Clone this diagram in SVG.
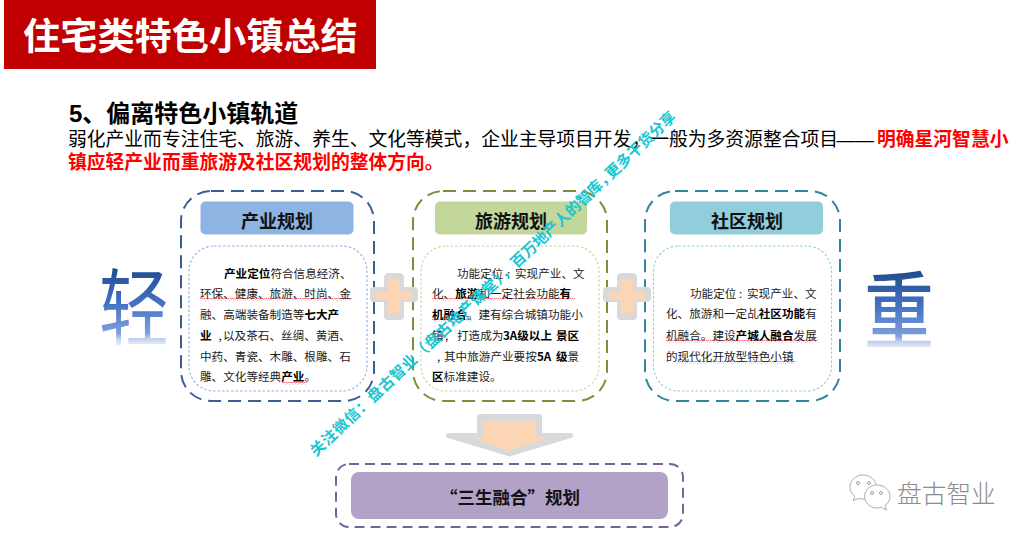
<svg xmlns="http://www.w3.org/2000/svg" width="1029" height="539" viewBox="0 0 1029 539">
<style>
text{font-family:"Liberation Sans","Noto Sans CJK SC",sans-serif}
.cjk{font-family:"Noto Sans CJK SC",sans-serif}
.hd{font-size:18px;font-weight:700;fill:#111;text-anchor:middle}
.tx{font-size:11.6px;fill:#222}
.tx .b{font-weight:700;fill:#000}
.outer{fill:#fff;stroke-width:2;stroke-dasharray:13 7}
.inner{fill:#fff;stroke-width:1.1;stroke-dasharray:2.5 2}
.plus-o{fill:#d9d9d9}
.plus-i{fill:#fcd5b5}
.sq{fill:url(#wave)}
</style>
<defs>
<pattern id="wave" width="4" height="3" patternUnits="userSpaceOnUse">
<path d="M0 2 L1 1 L2 1 L3 2 L4 2" fill="none" stroke="#ee6a78" stroke-width="0.9"/>
</pattern>
<linearGradient id="g1" gradientUnits="userSpaceOnUse" x1="0" y1="-60" x2="0" y2="7">
<stop offset="0" stop-color="#1f4b8c"/><stop offset="0.45" stop-color="#4472c4"/><stop offset="0.82" stop-color="#7f9fdc"/><stop offset="0.9" stop-color="#c5d4ef"/><stop offset="1" stop-color="#f6f8fd"/>
</linearGradient>
</defs>
<rect width="1029" height="539" fill="#fff"/>

<g id="title">
<rect x="4" y="0" width="372" height="69" fill="#c00000"/>
<text class="cjk" x="23" y="50" font-size="37.2" font-weight="700" fill="#fff">住宅类特色小镇总结</text>
</g>

<g id="intro">
<text class="cjk" x="69" y="122" font-size="24" font-weight="700" fill="#000"><tspan font-family="Liberation Sans">5</tspan><tspan>、偏离特色小镇轨道</tspan></text>
<text class="cjk" x="68" y="146" font-size="18.8" fill="#000">弱化产业而专注住宅、旅游、养生、文化等模式，企业主导项目开发，一般为多资源整合项目<tspan x="836.500" font-family="Liberation Sans">——</tspan><tspan x="877" font-weight="700" fill="#f00">明确星河智慧小</tspan></text>
<text class="cjk" x="68" y="169" font-size="18.8" font-weight="700" fill="#f00">镇应轻产业而重旅游及社区规划的整体方向。</text>
</g>

<g id="light">
<text class="cjk" transform="translate(99 339) scale(1 1.2)" font-size="70" fill="url(#g1)">轻</text>
</g>
<g id="heavy">
<text class="cjk" transform="translate(864 342) scale(1 1.2)" font-size="70" font-weight="500" fill="url(#g1)">重</text>
</g>

<g id="industry">
<rect class="outer" x="181" y="191" width="193" height="210" rx="30" stroke="#3a5f94"/>
<rect x="200.500" y="201.500" width="153" height="33" rx="5" fill="#8db4e2"/>
<text class="hd cjk" x="277" y="228">产业规划</text>
<rect class="inner" x="189" y="246" width="178" height="145" rx="25" stroke="#8db4e2"/>
<rect class="sq" x="200" y="298" width="152" height="3"/>
<rect class="sq" x="282" y="382" width="25" height="3"/>
<text class="tx cjk">
<tspan x="224" y="278"><tspan class="b">产业定位</tspan>符合信息经济、</tspan>
<tspan x="200" y="298">环保、健康、旅游、时尚、金</tspan>
<tspan x="200" y="319">融、高端装备制造等<tspan class="b">七大产</tspan></tspan>
<tspan x="200" y="339.500"><tspan class="b">业</tspan><tspan x="216"> ,</tspan><tspan x="223">以及茶石、丝绸、黄酒、</tspan></tspan>
<tspan x="200" y="361">中药、青瓷、木雕、根雕、石</tspan>
<tspan x="200" y="381">雕、文化等经典<tspan class="b">产业</tspan>。</tspan>
</text>
</g>

<g id="tourism">
<rect class="outer" x="413" y="191" width="194" height="210" rx="30" stroke="#76923c"/>
<rect x="435" y="201.500" width="152" height="33" rx="5" fill="#c3d69b"/>
<text class="hd cjk" x="511" y="228">旅游规划</text>
<rect class="inner" x="421" y="246" width="178" height="145" rx="25" stroke="#c3d69b"/>
<rect class="sq" x="432" y="298" width="143" height="3"/>
<rect class="sq" x="432" y="319" width="40" height="3"/>
<text class="tx cjk">
<tspan x="457" y="278">功能定位<tspan x="507">:</tspan><tspan x="515">实现产业、文</tspan></tspan>
<tspan x="432" y="298">化、<tspan class="b">旅游</tspan>和一定社会功能<tspan class="b">有</tspan></tspan>
<tspan x="432" y="319"><tspan class="b">机融合</tspan>。建有综合城镇功能小</tspan>
<tspan x="432" y="339.500">镇<tspan x="445">,</tspan><tspan x="457">打造成为</tspan><tspan x="503" class="b">3A级以上</tspan><tspan x="556" class="b">景区</tspan></tspan>
<tspan x="437" y="361">,<tspan x="444">其中旅游产业要按</tspan><tspan x="537" class="b">5A</tspan><tspan x="556" class="b">级</tspan>景</tspan>
<tspan x="432" y="381"><tspan class="b">区</tspan>标准建设。</tspan>
</text>
</g>

<g id="community">
<rect class="outer" x="645" y="191" width="195" height="210" rx="30" stroke="#31859c"/>
<rect x="670" y="201.500" width="153" height="33" rx="5" fill="#92cddc"/>
<text class="hd cjk" x="747" y="228">社区规划</text>
<rect class="inner" x="653.500" y="246" width="178" height="145" rx="25" stroke="#92cddc"/>
<rect class="sq" x="666" y="340" width="152" height="3"/>
<rect class="sq" x="677" y="361" width="118" height="3"/>
<text class="tx cjk">
<tspan x="690" y="297.500">功能定位<tspan x="739">:</tspan><tspan x="747">实现产业、文</tspan></tspan>
<tspan x="666" y="318">化、旅游和一定乩<tspan class="b">社区功能</tspan>有</tspan>
<tspan x="666" y="339.500">机融合。建设<tspan class="b">产城人融合</tspan>发展</tspan>
<tspan x="666" y="361">的现代化开放型特色小镇</tspan>
</text>
</g>

<g id="sanSheng">
<rect class="outer" x="336" y="464" width="347" height="63" rx="13" stroke="#7b6397" style="stroke-dasharray:10 6"/>
<rect x="351" y="472" width="317" height="47" rx="8" fill="#b3a2c7"/>
<text class="hd cjk" x="510" y="504" style="font-size:17.500px">“三生融合”规划</text>
</g>

<g id="connectors">
<g id="plus1">
<path class="plus-o" d="M388 273h12a5 5 0 0 1 4 4v10h10a4 4 0 0 1 4 4v7a4 4 0 0 1-4 4h-10v14a4 4 0 0 1-4 4h-12a4 4 0 0 1-4-4v-14h-10a4 4 0 0 1-4-4v-7a4 4 0 0 1 4-4h10v-10a5 5 0 0 1 4-4z"/>
<path class="plus-i" d="M388 279h12v13h12v8h-12v13h-12v-13h-12v-8h12z"/>
</g>
<g id="plus2">
<path class="plus-o" d="M621 273h12a5 5 0 0 1 4 4v10h10a4 4 0 0 1 4 4v7a4 4 0 0 1-4 4h-10v14a4 4 0 0 1-4 4h-12a4 4 0 0 1-4-4v-14h-10a4 4 0 0 1-4-4v-7a4 4 0 0 1 4-4h10v-10a5 5 0 0 1 4-4z"/>
<path class="plus-i" d="M621 279h12v13h12v8h-12v13h-12v-13h-12v-8h12z"/>
</g>
<g id="arrow">
<path d="M480 414h59a3 3 0 0 1 3 3v16h28a2.500 2.500 0 0 1 1 5l-60 18a4 4 0 0 1-3 0l-60-18a2.500 2.500 0 0 1 1-5h28v-16a3 3 0 0 1 3-3z" fill="#d9d9d9"/>
<path d="M483 421h53v17h11l-38 13-36-13h10z" fill="#fcd5b5"/>
</g>
</g>

<g id="logo">
<g fill="#fff" stroke="#999" stroke-width="0.8">
<path d="M863 475c-7.500 0-13 5.500-13 12 0 4 2 7 5 9.500l-2 4 6-2c1.500.4 3 .6 4.500.6 7 0 13-5 13-12 0-6.500-6-12-13.500-12z"/>
<path d="M877 485c-6.500 0-12.500 5-12.500 11.500s6 11.500 12.500 11.500c1.500 0 3-.2 4.500-.7l5 2.700-1.500-4.500c3-2 5-5.300 5-9 0-6.500-6-11.500-12.500-11.500z"/>
</g>
<g fill="none" stroke="#888" stroke-width="0.8">
<circle cx="858" cy="483" r="1.500"/><circle cx="869" cy="483" r="1.500"/><circle cx="872" cy="493" r="1.500"/><circle cx="881" cy="493" r="1.500"/>
</g>
<text class="cjk" x="897" y="503" font-size="24.700" font-weight="300" fill="#8c8c8c">盘古智业</text>
</g>

<g id="watermark">
<text class="cjk" x="0" y="0" transform="translate(316 457) rotate(-43.200)" font-size="15" font-weight="700" fill="#19c5d0"><tspan letter-spacing="0.7">关注微信：盘古智业（盘古地产课堂），</tspan>百万地产人的智库，<tspan dx="-5">更多干货分享</tspan></text>
</g>
</svg>
